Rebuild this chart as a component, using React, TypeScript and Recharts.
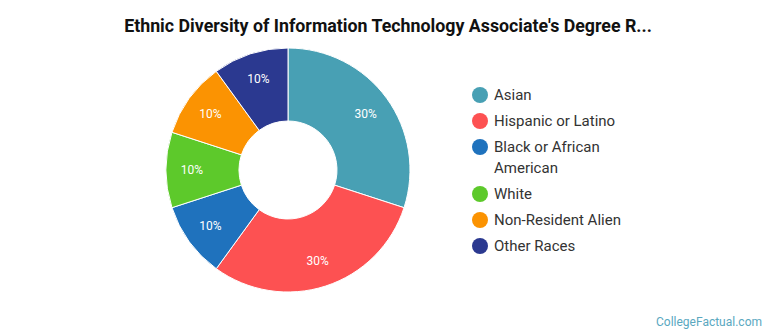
import { PieChart, Pie, Cell, Legend } from "recharts";

const categories = [
  "Asian",
  "Hispanic or Latino",
  "Black or African American",
  "White",
  "Non-Resident Alien",
  "Other Races",
];
const shares = [30, 30, 10, 10, 10, 10];
const colors = ["#48a0b4", "#fd5152", "#1f72bd", "#5dc92b", "#fb9302", "#2b3990"];

const data = categories.map((name, i) => ({ name, value: shares[i] }));

const RADIAN = Math.PI / 180;

function renderLabel(props: any) {
  const { cx, cy, midAngle, percent } = props;
  const r = 96;
  const x = cx + r * Math.cos(-midAngle * RADIAN);
  const y = cy + r * Math.sin(-midAngle * RADIAN);
  return (
    <text
      x={x}
      y={y}
      fill="#fff"
      fontSize={12}
      fontFamily="Roboto, sans-serif"
      textAnchor="middle"
      dominantBaseline="central"
    >
      {`${Math.round(percent * 100)}%`}
    </text>
  );
}

function LegendList() {
  return (
    <ul style={{ listStyle: "none", margin: 0, padding: 0 }}>
      {data.map((d, i) => (
        <li
          key={d.name}
          style={{
            display: "flex",
            alignItems: "flex-start",
            marginBottom: 5,
            fontFamily: "Roboto, sans-serif",
            fontSize: 15,
            lineHeight: "21px",
            color: "#333",
          }}
        >
          <span
            style={{
              width: 16,
              height: 16,
              borderRadius: "50%",
              background: colors[i],
              marginTop: 2,
              marginRight: 6,
              flexShrink: 0,
            }}
          />
          <span style={{ width: 150 }}>{d.name}</span>
        </li>
      ))}
    </ul>
  );
}

export default function App() {
  return (
    <div
      style={{
        position: "absolute",
        left: 0,
        top: 0,
        width: 770,
        height: 335,
        background: "#fff",
        fontFamily: "Roboto, sans-serif",
      }}
    >
      <div
        style={{
          position: "absolute",
          top: 15,
          left: 0,
          width: 776,
          textAlign: "center",
          fontWeight: 700,
          fontSize: 17.8,
          color: "#111",
        }}
      >
        Ethnic Diversity of Information Technology Associate's Degree R...
      </div>
      <PieChart width={770} height={335} margin={{ top: 0, right: 0, bottom: 0, left: 0 }}>
        <Pie
          data={data}
          dataKey="value"
          nameKey="name"
          cx={288}
          cy={170}
          innerRadius={49}
          outerRadius={122}
          startAngle={90}
          endAngle={-270}
          stroke="#fff"
          strokeWidth={1}
          label={renderLabel}
          labelLine={false}
          isAnimationActive={false}
        >
          {data.map((d, i) => (
            <Cell key={d.name} fill={colors[i]} />
          ))}
        </Pie>
        <Legend
          layout="vertical"
          align="right"
          verticalAlign="top"
          content={() => <LegendList />}
          wrapperStyle={{ left: 472, top: 85, width: 200 }}
        />
      </PieChart>
      <div
        style={{
          position: "absolute",
          right: 8,
          bottom: 6,
          fontSize: 12,
          color: "#5aa8bf",
        }}
      >
        CollegeFactual.com
      </div>
    </div>
  );
}
